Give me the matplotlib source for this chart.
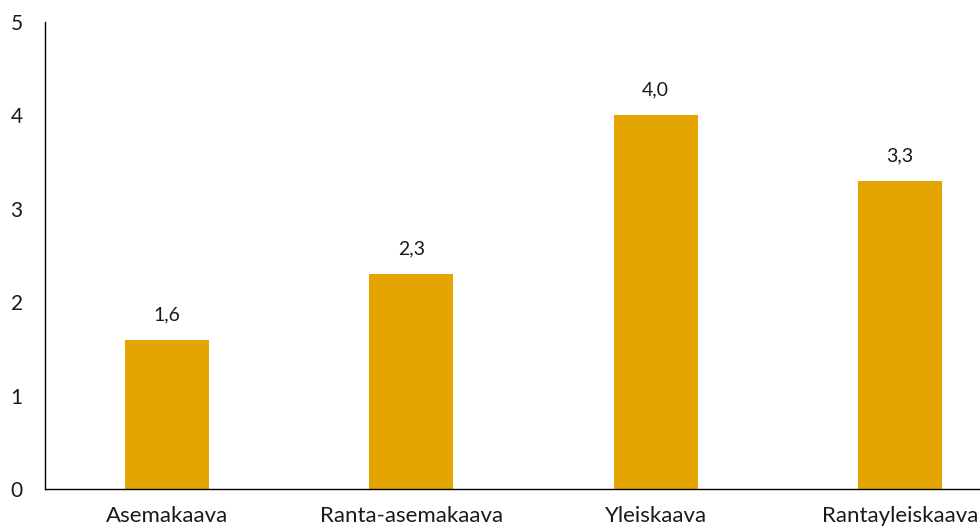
import matplotlib
matplotlib.use("Agg")
import matplotlib.pyplot as plt

categories = ["Asemakaava", "Ranta-asemakaava", "Yleiskaava", "Rantayleiskaava"]
values = [1.6, 2.3, 4.0, 3.3]
value_labels = ["1,6", "2,3", "4,0", "3,3"]
y_ticks = [0, 1, 2, 3, 4, 5]

plt.rcParams["font.family"] = ["Lato", "DejaVu Sans"]

fig = plt.figure(figsize=(9.8, 5.29), dpi=100)
ax = fig.add_axes([45 / 980, 40 / 529, 977 / 980, 467 / 529])

x = list(range(len(categories)))
bars = ax.bar(x, values, width=0.344, color="#E5A500", zorder=2)

for xi, v, lab in zip(x, values, value_labels):
    ax.annotate(lab, (xi, v), xytext=(0, 12), textcoords="offset points",
                ha="center", va="bottom", fontsize=14, color="#1a1a1a")

ax.set_xlim(-0.5, 3.5)
ax.set_ylim(0, 5)
ax.set_yticks(y_ticks)
ax.set_yticklabels([str(t) for t in y_ticks])
ax.set_xticks(x)
ax.set_xticklabels(categories)

for side in ("top", "right"):
    ax.spines[side].set_visible(False)
for side in ("left", "bottom"):
    ax.spines[side].set_linewidth(1.0)
    ax.spines[side].set_color("#000000")

ax.tick_params(axis="both", length=0, colors="#1a1a1a")
ax.tick_params(axis="y", pad=16, labelsize=15)
ax.tick_params(axis="x", pad=12, labelsize=16)

fig.savefig("out.png", dpi=100)
